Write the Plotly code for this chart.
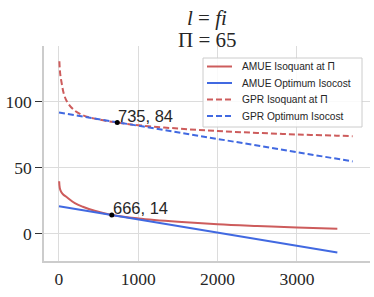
import plotly.graph_objects as go

# AMUE isoquant (solid red)
amue_q_x = [2, 10, 25, 50, 100, 200, 300, 450, 666, 1000, 1500, 2000, 2500, 3000, 3510]
amue_q_y = [39.6, 34.5, 31.8, 29.8, 27.5, 23.0, 20.3, 17.2, 14.0, 11.4, 8.9, 7.0, 5.7, 4.6, 3.6]
# AMUE optimum isocost (solid blue)
amue_c_x = [0, 3510]
amue_c_y = [20.7, -14.4]
# GPR isoquant (dashed red)
gpr_q_x = [5, 15, 35, 60, 100, 180, 300, 450, 735, 1000, 1500, 2000, 2500, 3000, 3500, 3703]
gpr_q_y = [130.5, 121.0, 113.5, 106.0, 100.0, 94.0, 89.6, 87.0, 84.0, 82.0, 79.5, 77.6, 76.2, 75.0, 74.1, 73.7]
# GPR optimum isocost (dashed blue)
gpr_c_x = [0, 3703]
gpr_c_y = [91.6, 54.6]
# optimum points
opt_x = [735, 666]
opt_y = [84, 14]
opt_labels = ["735, 84", "666, 14"]

x_ticks = [0, 1000, 2000, 3000]
y_ticks = [0, 50, 100]

legend_names = ["AMUE Isoquant at Π", "AMUE Optimum Isocost", "GPR Isoquant at Π", "GPR Optimum Isocost"]

RED = "#CD5C5C"
BLUE = "#4169E1"
TXT = "#262626"
SERIF = "Liberation Serif"
SANS = "Liberation Sans"

styles = [dict(color=RED, width=2), dict(color=BLUE, width=2),
          dict(color=RED, width=2, dash="6px,3px"), dict(color=BLUE, width=2, dash="6px,3px")]

fig = go.Figure()
series = [(amue_q_x, amue_q_y, "spline"), (amue_c_x, amue_c_y, "linear"),
          (gpr_q_x, gpr_q_y, "spline"), (gpr_c_x, gpr_c_y, "linear")]
for (xs, ys, shp), name, st in zip(series, legend_names, styles):
    fig.add_trace(go.Scatter(x=xs, y=ys, mode="lines", name=name, line=st, line_shape=shp,
                             showlegend=False))
fig.add_trace(go.Scatter(x=opt_x, y=opt_y, mode="markers", showlegend=False,
                         marker=dict(color="black", size=5)))

for px, py, lab in zip(opt_x, opt_y, opt_labels):
    fig.add_annotation(x=px, y=py, text=lab, showarrow=False, xanchor="left", yanchor="bottom",
                       xshift=-1, yshift=-4, font=dict(family=SANS, size=16.5, color=TXT))

# plot area geometry in pixels (for paper-coordinate conversions)
L, R, T, B = 44, 370, 46, 261
def px_x(p):
    return (p - L) / (R - L)
def px_y(p):
    return (B - p) / (B - T)

# title
fig.add_annotation(xref="paper", yref="paper", x=0.5, y=px_y(18), text="<i>l</i> = <i>fi</i>",
                   showarrow=False, xanchor="center", yanchor="middle",
                   font=dict(family=SERIF, size=21, color=TXT))
fig.add_annotation(xref="paper", yref="paper", x=0.5, y=px_y(39.5), text="Π = 65",
                   showarrow=False, xanchor="center", yanchor="middle",
                   font=dict(family=SERIF, size=21, color=TXT))

# legend (drawn manually to match row spacing)
fig.add_shape(type="rect", xref="paper", yref="paper", x0=px_x(203), x1=px_x(362),
              y0=px_y(127), y1=px_y(58), line=dict(color="#cccccc", width=1),
              fillcolor="rgba(255,255,255,0.85)", layer="above")
row_y = [66.5, 83, 99.5, 116]
for name, st, ry in zip(legend_names, styles, row_y):
    fig.add_shape(type="line", xref="paper", yref="paper", x0=px_x(207), x1=px_x(232),
                  y0=px_y(ry), y1=px_y(ry), line=st, layer="above")
    fig.add_annotation(xref="paper", yref="paper", x=px_x(240), y=px_y(ry), text=name,
                       showarrow=False, xanchor="left", yanchor="middle",
                       font=dict(family=SANS, size=10.2, color=TXT))

fig.update_layout(
    width=374, height=297,
    margin=dict(l=L, r=374 - R, t=T, b=297 - B),
    paper_bgcolor="white", plot_bgcolor="white",
    showlegend=False,
)
fig.update_xaxes(range=[-189, 3922], tickvals=x_ticks, ticktext=[str(v) for v in x_ticks],
                 showgrid=True, gridcolor="#dcdcdc", gridwidth=1.3, zeroline=False, automargin=False,
                 showline=True, linecolor="#cccccc", linewidth=1.5, ticks="", ticklabelstandoff=1,
                 tickfont=dict(family=SERIF, size=17.5, color=TXT))
fig.update_yaxes(range=[-20.8, 142], tickvals=y_ticks, ticktext=[str(v) for v in y_ticks],
                 showgrid=True, gridcolor="#dcdcdc", gridwidth=1.3, zeroline=False, automargin=False,
                 showline=True, linecolor="#cccccc", linewidth=1.5, ticks="outside", ticklen=7,
                 tickcolor="#333333", tickwidth=1.3,
                 tickfont=dict(family=SERIF, size=17.5, color=TXT))

fig.write_html("out.html", config={"displayModeBar": False},
               post_script="document.body.style.margin='0';document.body.style.overflow='hidden';")
